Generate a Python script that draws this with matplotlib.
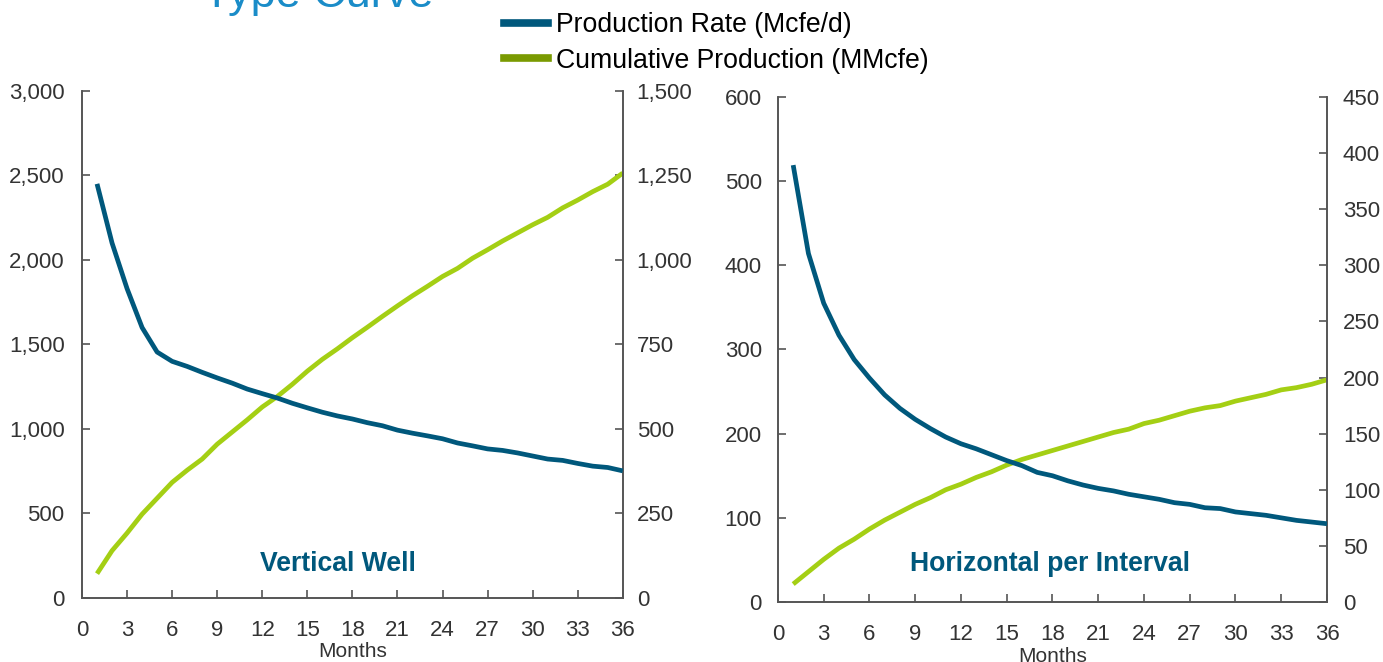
"""type curve: vertical well vs horizontal per interval"""
import matplotlib
matplotlib.use("Agg")
from matplotlib import pyplot as plt
from matplotlib.lines import Line2D
from matplotlib.ticker import FuncFormatter

plt.rcParams["font.family"] = ["Liberation Sans", "DejaVu Sans"]

BLUE = "#00587c"
GREEN = "#a4cf14"
GREEN_LEG = "#7a9a01"
GREY = "#555555"
TXT = "#333333"

months = list(range(1, 37))

vert_rate = [2450, 2100, 1830, 1600, 1455, 1400, 1370, 1335, 1302, 1271,
             1236, 1209, 1183, 1152, 1125, 1099, 1077, 1059, 1037, 1019,
             993, 975, 959, 942, 917, 900, 882, 873, 858, 840,
             822, 814, 796, 780, 772, 752]
vert_cum = [72, 140, 192, 248, 295, 342, 378, 411, 455, 491,
            527, 565, 596, 632, 671, 706, 737, 770, 801, 833,
            864, 894, 922, 951, 975, 1005, 1030, 1056, 1080, 1104,
            1126, 1154, 1177, 1202, 1224, 1257]

horiz_rate = [519, 414, 355, 317, 288, 266, 246, 230, 217, 206,
              196, 188, 182, 175, 168, 162, 154, 150, 144, 139,
              135, 132, 128, 125, 122, 118, 116, 112, 111, 107,
              105, 103, 100, 97, 95, 93]
horiz_cum = [16, 27, 38, 48, 56, 65, 73, 80, 87, 93,
             100, 105, 111, 116, 122, 127, 131, 135, 139, 143,
             147, 151, 154, 159, 162, 166, 170, 173, 175, 179,
             182, 185, 189, 191, 194, 198]

x_ticks = list(range(0, 37, 3))

fig = plt.figure(figsize=(13.83, 6.62), dpi=100)

comma = FuncFormatter(lambda v, p: f"{int(v):,}")


def make_panel(rect, rate, cum, ymax_l, step_l, ymax_r, step_r,
               label, label_x, label_y, pad_l, pad_r, months_pad):
    ax = fig.add_axes(rect)
    ax2 = ax.twinx()
    ax.plot(months, rate, color=BLUE, lw=3.4, solid_capstyle="butt", zorder=3)
    ax2.plot(months, cum, color=GREEN, lw=3.4, solid_capstyle="butt")
    ax.set_zorder(ax2.get_zorder() + 1)
    ax.patch.set_visible(False)

    ax.set_xlim(0, 36)
    ax.set_xticks(x_ticks)
    ax.set_ylim(0, ymax_l)
    ax.set_yticks(range(0, ymax_l + 1, step_l))
    ax2.set_ylim(0, ymax_r)
    ax2.set_yticks(range(0, ymax_r + 1, step_r))
    ax.yaxis.set_major_formatter(comma)
    ax2.yaxis.set_major_formatter(comma)

    for a in (ax, ax2):
        a.spines["top"].set_visible(False)
        for s in ("left", "right", "bottom"):
            a.spines[s].set_color(GREY)
            a.spines[s].set_linewidth(1.2)
        a.tick_params(colors=GREY, labelcolor=TXT, labelsize=16,
                      direction="in", length=6, width=1.2)
    ax.tick_params(axis="x", pad=16)
    ax.tick_params(axis="y", pad=pad_l)
    ax2.tick_params(axis="y", pad=pad_r)

    ax.set_xlabel("Months", fontsize=15, color=TXT, labelpad=months_pad)
    ax.text(label_x, label_y, label, transform=ax.transAxes, ha="center",
            va="center", fontsize=19.2, fontweight="bold", color=BLUE)
    return ax


make_panel([0.0593, 0.0967, 0.391, 0.766], vert_rate, vert_cum,
           3000, 500, 1500, 250, "Vertical Well", 0.473, 0.067, 12.5, 10, 0.5)
make_panel([0.5625, 0.0906, 0.397, 0.763], horiz_rate, horiz_cum,
           600, 100, 450, 50, "Horizontal per Interval", 0.496, 0.076, 11.5,
           11.5, 1)

handles = [Line2D([], [], color=BLUE, lw=5.5),
           Line2D([], [], color=GREEN_LEG, lw=5.5)]
fig.legend(handles, ["Production Rate (Mcfe/d)", "Cumulative Production (MMcfe)"],
           loc="upper left", bbox_to_anchor=(0.347, 1.018), frameon=False,
           fontsize=19.2, handlelength=1.65, handletextpad=0.3,
           labelspacing=0.36, labelcolor="black")

fig.text(0.1465, 0.99, "Type Curve", fontsize=32.5, color="#1a8cc8",
         ha="left", va="baseline")

fig.savefig("out.png", dpi=100)
